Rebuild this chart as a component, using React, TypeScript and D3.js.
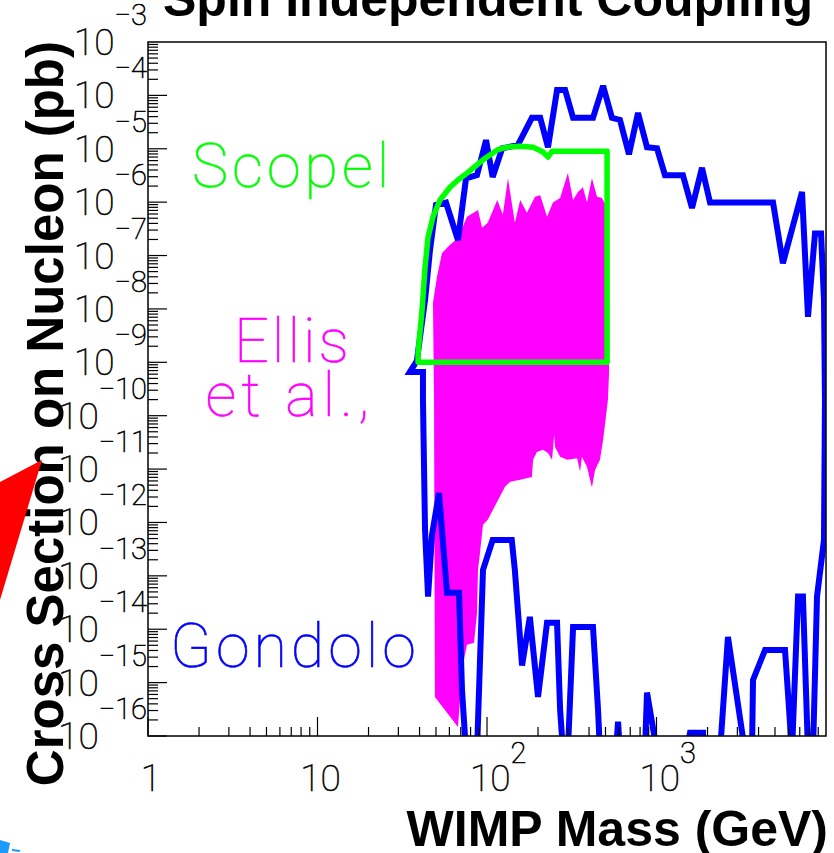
import React from 'react';
import * as d3 from 'd3';

const W = 834;
const H = 853;
const M = { left: 148, top: 42, right: 8, bottom: 117 };

// axes
const massDomain: [number, number] = [1, 1e4];
const sigmaDomain: [number, number] = [1e-16, 1e-3];
const xLabelValues = [1, 10, 100, 1000];
const xLabelBase = ['1', '10', '10', '10'];
const xLabelExp = ['', '', '2', '3'];
const yLabelExps = [-3, -4, -5, -6, -7, -8, -9, -10, -11, -12, -13, -14, -15, -16];

// Gondolo contour (closed)
const gondoloMass = [
  35.1, 38.6, 40.8, 43.1, 46.1, 50.0, 57.3, 67.4, 75.2, 87.3, 98.7, 108, 123, 152, 184, 206, 229, 259, 289, 322,
  422, 484, 546, 609, 688, 778, 879, 1007, 1122, 1432, 1620, 1855, 2070, 4870, 5570, 7220, 7830, 8610, 9350, 9730,
  9860, 9730, 8850, 8380, 7830, 7310, 6840, 6300, 5730, 4370, 3710, 3660, 3330, 2640, 2370, 1880, 1880, 1577, 1500,
  1007, 879, 855, 609, 593, 577, 464, 452, 422, 322, 300, 281, 270, 259, 226, 200, 179, 161, 146, 140, 108, 94.7,
  87.3, 75.2, 71.2, 68.4, 58.1, 52.1, 47.4, 44.9, 43.1, 41.9, 41.9,
];
const gondoloSigma = [
  6.6e-10, 1.07e-9, 4.1e-9, 1.48e-8, 1.26e-7, 8.9e-7, 9.8e-7, 1.95e-7, 2.8e-6, 3.2e-6, 1.45e-5, 2.95e-6, 1.02e-5,
  1.17e-5, 3.8e-5, 3.8e-5, 1.07e-5, 1.26e-4, 1.26e-4, 3.8e-5, 3.8e-5, 1.51e-4, 3.8e-5, 3.47e-5, 7.9e-6, 4.7e-5,
  1.07e-5, 1.02e-5, 3.2e-6, 3.2e-6, 7.8e-7, 4.4e-6, 9.8e-7, 9.8e-7, 7.2e-8, 1.55e-6, 7.1e-9, 2.6e-7, 2.6e-7, 1.48e-8,
  2.0e-10, 4.7e-13, 4.1e-14, 5e-17, 5e-17, 4.1e-14, 4.1e-14, 5e-17, 4.1e-15, 4.1e-15, 1.12e-15, 5e-17, 5e-17, 7.2e-15,
  5e-17, 5e-17, 1.15e-16, 1.15e-16, 5e-17, 5e-17, 6.5e-16, 5e-17, 5e-17, 1.86e-16, 5e-17, 5e-17, 3.1e-16, 1.1e-14,
  1.1e-14, 5e-17, 5e-17, 3.1e-16, 1.32e-14, 1.32e-14, 5.4e-16, 1.7e-14, 2.1e-15, 1.29e-13, 4.7e-13, 4.7e-13, 1.29e-13,
  5e-17, 5e-17, 7.4e-16, 4.8e-14, 4.8e-14, 3.55e-12, 5.9e-13, 4.1e-14, 7.2e-13, 2.0e-10, 6.6e-10,
];

// Ellis et al. region: upper edge (left to right) and lower edge (right to left)
const ellisUpperMass = [
  48.7, 48.0, 50.7, 54.3, 60.5, 67.4, 76.2, 88.5, 93.5, 101, 115, 124, 133, 146, 157, 172, 192, 206, 226, 245, 270,
  300, 322, 344, 368, 389, 416, 446, 477, 511, 525, 525, 517,
];
const ellisUpperSigma = [
  2.0e-10, 1.3e-8, 4.0e-8, 1.12e-7, 1.6e-7, 2.1e-7, 5.3e-7, 7.1e-7, 3.3e-7, 4.1e-7, 1.1e-6, 5.8e-7, 2.8e-6, 4.1e-7,
  1.1e-6, 6.3e-7, 1.26e-6, 1.35e-6, 5.3e-7, 9.8e-7, 1.2e-6, 3.5e-6, 1.1e-6, 1.55e-6, 1.9e-6, 9.8e-7, 2.8e-6, 1.26e-6,
  1.2e-6, 7.8e-7, 1.48e-8, 6.3e-10, 2.0e-10,
];
const ellisLowerMass = [
  511, 484, 464, 434, 416, 389, 363, 354, 340, 297, 270, 252, 249, 242, 229, 214, 197, 187, 184, 157, 137, 128, 116,
  101, 94.7, 90.9, 88.5, 87.3, 83.8, 76.2, 73.2, 69.3, 67.4, 49.3,
];
const ellisLowerSigma = [
  1.45e-10, 3.5e-11, 1.5e-11, 9.6e-12, 4.5e-12, 1.1e-11, 1.7e-11, 8.9e-12, 1.6e-11, 1.5e-11, 1.7e-11, 2.6e-11, 4.4e-11,
  1.5e-11, 2.0e-11, 2.3e-11, 2.1e-11, 1.5e-11, 7.1e-12, 6.3e-12, 5.8e-12, 4.7e-12, 2.6e-12, 1.12e-12, 9.1e-13, 2.7e-13,
  1.29e-13, 2.0e-14, 5.6e-15, 5.1e-15, 2.7e-15, 4.8e-16, 1.48e-16, 5.4e-16,
];

// Scopel region (closed)
const scopelMass = [
  39.2, 39.2, 41.4, 43.1, 44.9, 48.0, 52.8, 60.5, 67.4, 76.2, 94.7, 115, 131, 157, 187, 214, 229, 242, 511, 511,
];
const scopelSigma = [
  1.0e-9, 1.5e-9, 9.6e-9, 6.1e-8, 2.2e-7, 5.3e-7, 1.1e-6, 1.9e-6, 2.6e-6, 3.5e-6, 6.2e-6, 9.5e-6, 1.07e-5, 1.12e-5,
  1.07e-5, 8.7e-6, 7.0e-6, 9e-6, 9e-6, 1.0e-9,
];

const thinFont = "Roboto, 'Noto Sans', sans-serif";
const boldFont = "'Liberation Sans', Arial, Helvetica, sans-serif";

export default function App() {
  const x = d3.scaleLog().domain(massDomain).range([M.left, W - M.right]);
  const y = d3.scaleLog().domain(sigmaDomain).range([H - M.bottom, M.top]);
  const [x0, x1] = x.range();
  const [y0, y1] = y.range();

  const line = d3
    .line<[number, number]>()
    .x((d) => x(d[0]))
    .y((d) => y(d[1]));

  const gondolo = gondoloMass.map((m, i) => [m, gondoloSigma[i]] as [number, number]);
  const scopel = scopelMass.map((m, i) => [m, scopelSigma[i]] as [number, number]);
  const ellis = [
    ...ellisUpperMass.map((m, i) => [m, ellisUpperSigma[i]] as [number, number]),
    ...ellisLowerMass.map((m, i) => [m, ellisLowerSigma[i]] as [number, number]),
  ];

  const xMinor: number[] = [];
  for (let e = 0; e < 4; e++) for (let k = 1; k <= 9; k++) xMinor.push(k * Math.pow(10, e));
  const yMinor: number[] = [];
  for (let e = -16; e < -3; e++) for (let k = 1; k <= 9; k++) yMinor.push(k * Math.pow(10, e));

  const thin = (color: string) => ({
    fontFamily: thinFont,
    fontWeight: 100,
    fill: color,
    stroke: color,
    strokeWidth: 0.6,
  });

  return (
    <svg
      width={W}
      height={H}
      style={{ position: 'absolute', left: 0, top: 0, background: '#fff' }}
      xmlns="http://www.w3.org/2000/svg"
    >
      <rect x={0} y={0} width={W} height={H} fill="#fff" />
      <defs>
        <clipPath id="plot">
          <rect x={x0} y={y1} width={x1 - x0} height={y0 - y1} />
        </clipPath>
      </defs>

      <text x={163} y={16} fontFamily={boldFont} fontWeight={700} fontSize={50} fill="#000">
        Spin Independent Coupling
      </text>

      <g clipPath="url(#plot)">
        <path d={line(ellis)! + 'Z'} fill="#ff00ff" stroke="none" />
        <path
          d={line(gondolo)! + 'Z'}
          fill="none"
          stroke="#0000ff"
          strokeWidth={6}
          strokeLinejoin="miter"
          strokeMiterlimit={3}
        />
        <path d={line(scopel)! + 'Z'} fill="none" stroke="#00ff00" strokeWidth={5.5} strokeLinejoin="round" />
      </g>

      <rect x={x0} y={y1} width={x1 - x0} height={y0 - y1} fill="none" stroke="#000" strokeWidth={1.5} />

      {xMinor.map((v, i) => {
        const major = Math.abs(Math.log10(v) - Math.round(Math.log10(v))) < 1e-9;
        return (
          <line key={'xt' + i} x1={x(v)} x2={x(v)} y1={y0} y2={y0 - (major ? 19 : 9)} stroke="#000" strokeWidth={1.2} />
        );
      })}
      {yMinor.map((v, i) => {
        const major = Math.abs(Math.log10(v) - Math.round(Math.log10(v))) < 1e-9;
        return (
          <line key={'yt' + i} x1={x0} x2={x0 + (major ? 19 : 10)} y1={y(v)} y2={y(v)} stroke="#000" strokeWidth={1.2} />
        );
      })}

      {xLabelValues.map((v, i) =>
        xLabelExp[i] ? (
          <text key={'xl' + i} x={x(v) - 17} y={791} fontSize={37} {...thin('#000')}>
            {xLabelBase[i]}
            <tspan fontSize={29} dy={-28}>
              {xLabelExp[i]}
            </tspan>
          </text>
        ) : (
          <text key={'xl' + i} x={x(v) + 3} y={791} textAnchor="middle" fontSize={37} {...thin('#000')}>
            {xLabelBase[i]}
          </text>
        )
      )}

      {yLabelExps.map((e) => (
        <text key={'yl' + e} x={147} y={y(Math.pow(10, e)) + 13} textAnchor="end" fontSize={37} {...thin('#000')}>
          10
          <tspan fontSize={29} dy={-30}>
            {'\u2212' + Math.abs(e)}
          </tspan>
        </text>
      ))}

      <text x={828} y={846} textAnchor="end" fontFamily={boldFont} fontWeight={700} fontSize={50} fill="#000">
        WIMP Mass (GeV)
      </text>
      <text
        transform="translate(63,41) rotate(-90)"
        textAnchor="end"
        fontFamily={boldFont}
        fontWeight={700}
        fontSize={51}
        fill="#000"
      >
        Cross Section on Nucleon (pb)
      </text>

      <text x={192} y={187} fontSize={61} letterSpacing={4} {...thin('#00ff00')}>
        Scopel
      </text>
      <text x={293} y={362} textAnchor="middle" fontSize={61} letterSpacing={3} {...thin('#ff00ff')}>
        Ellis
      </text>
      <text x={290} y={416} textAnchor="middle" fontSize={61} letterSpacing={5} {...thin('#ff00ff')}>
        et al.,
      </text>
      <text x={170} y={667} fontSize={61} letterSpacing={4} {...thin('#0000ff')}>
        Gondolo
      </text>

      <polygon points="0,482 42,460 0,600" fill="#ff0000" />
      <polygon points="0,840 10,843 8,853 0,853" fill="#1a9cff" />
      <line x1={12} y1={850} x2={20} y2={851} stroke="#1a9cff" strokeWidth={2} />
    </svg>
  );
}
